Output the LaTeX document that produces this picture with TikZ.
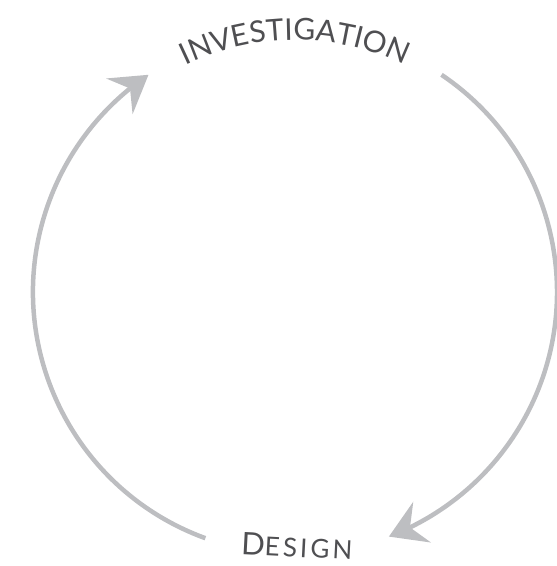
\documentclass[tikz,border=0pt]{standalone}
\usepackage{fontspec}
\setmainfont{Lato}[LetterSpace=6]
\usetikzlibrary{arrows.meta,bending,decorations.text}
\definecolor{ringgray}{HTML}{BDBEC1}
\definecolor{labelgray}{HTML}{4F4F52}
\begin{document}
\begin{tikzpicture}[x=1pt,y=1pt,
  cyclearrow/.style={line width=4.5pt,ringgray,-{Stealth[length=36pt,width=44pt,inset=13pt]}},
  every node/.style={text=labelgray}]
\useasboundingbox (0,0) rectangle (557,566);
\coordinate (c) at (295,274);
\path (c) ++(250:262) coordinate (designL) (c) ++(56:262) coordinate (investR);
% the two halves of the cycle
\draw[cyclearrow] (designL) arc[start angle=250,end angle=124,radius=262];
\draw[cyclearrow] (investR) arc[start angle=56,end angle=-69,radius=262];
% labels
\path[decorate,decoration={text along path,text align=center,text color=labelgray,
  text={|\fontsize{30}{32}\selectfont|INVESTIGATION}}]
  (c) ++(122:252) arc[start angle=122,end angle=58,radius=252];
\node[rotate=-3,font=\fontsize{26}{30}\selectfont\addfontfeatures{LetterSpace=12}] (design) at (297,20)
  {{\fontsize{31}{33}\selectfont D}ESIGN};
\end{tikzpicture}
\end{document}
